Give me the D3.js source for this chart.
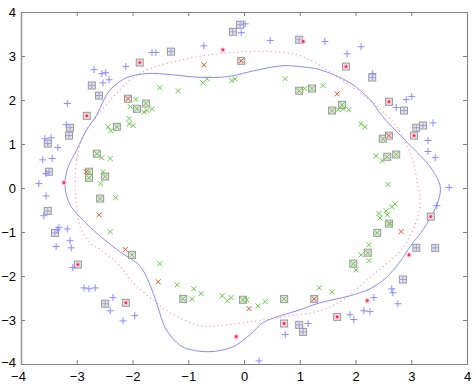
<!DOCTYPE html>
<html>
<head>
<meta charset="utf-8">
<script src="https://cdn.jsdelivr.net/npm/d3@7"></script>
<style>
  body { margin: 0; background: #fff; }
  svg { display: block; }
  .tick text { font-family: "Liberation Sans", Arial, sans-serif; font-size: 13px; fill: #000; }
</style>
</head>
<body>
<svg id="chart" width="475" height="385"></svg>
<script>
// class +1 points (outside)
var plusPts = [[-1.65,3.08],[-1.58,3.08],[-2.12,2.76],[-2.69,2.69],[-2.55,2.60],[-2.48,2.62],[-2.42,2.46],[-2.53,2.39],
  [-3.17,1.92],[-3.19,1.44],[-3.57,1.12],[-3.46,1.14],[-3.34,0.92],[-3.61,0.64],[-3.44,0.67],[-3.55,0.33],[-3.68,0.10],
  [-3.55,-0.18],[-3.59,-0.63],[-3.32,-0.90],[-3.35,-0.95],[-3.17,-0.93],[-3.12,-1.20],[-3.37,-1.33],[-3.10,-1.36],
  [-3.07,-1.81],[-2.87,-2.27],[-2.78,-2.29],[-2.67,-2.27],[-2.35,-2.49],[-2.40,-2.79],[-2.17,-3.02],[-1.96,-2.90],
  [0.02,3.73],[-0.05,3.53],[-0.72,3.23],[0.47,3.35],[1.45,3.33],[1.85,3.05],[2.10,3.21],[2.31,2.60],[2.91,2.01],
  [3.01,2.08],[2.73,1.83],[3.39,1.48],[3.30,1.08],[3.30,0.83],[3.43,0.69],[3.68,0.01],[3.46,-0.40],[2.65,-2.29],
  [2.67,-2.38],[2.76,-2.63],[2.33,-2.49],[2.15,-2.79],[2.26,-2.81],[1.90,-2.88],[1.97,-2.99],[0.74,-3.33],
  [1.15,-3.08],[0.27,-3.93]];
// class +1 support vectors
var plusSV = [[-2.73,2.33],[-2.60,2.10],[-3.12,1.37],[-3.14,1.19],[-3.52,1.01],[-3.50,0.37],[-3.52,-0.52],[-3.39,-1.02],
  [-2.49,-2.63],[-0.07,3.71],[-0.20,3.55],[-1.31,3.10],[0.99,3.37],[2.30,2.51],[2.87,1.76],[3.09,1.37],[3.21,1.42],
  [3.09,-1.36],[3.43,-1.36],[0.99,-3.11],[1.06,-3.27],[2.85,-2.08]];
// class -1 points (inside)
var crossPts = [[-1.94,2.01],[-2.04,1.85],[-1.65,1.80],[-1.74,1.76],[-1.79,1.73],[-1.51,2.28],[-2.44,1.39],[-2.39,1.30],
  [-2.06,1.58],[-2.06,1.46],[-1.99,1.42],[-1.18,2.21],[-0.74,2.39],[-0.66,2.48],[-0.22,2.44],[-0.16,2.48],[0.74,2.48],
  [1.09,2.26],[1.42,2.33],[1.69,1.78],[1.78,1.80],[1.88,1.78],[2.10,1.46],[2.17,1.39],[-2.55,0.69],[-2.40,0.67],
  [-2.53,0.37],[-2.57,0.10],[-2.30,-0.22],[-2.40,-0.99],[-1.51,-1.72],[-1.20,-2.20],[-0.90,-2.29],[-0.77,-2.40],
  [-0.93,-2.52],[-0.39,-2.45],[-0.23,-2.49],[-0.30,-2.56],[0.05,-2.54],[0.25,-2.68],[0.38,-2.58],[1.35,-2.27],
  [1.58,-2.36],[2.10,-1.52],[2.24,-1.65],[2.01,-1.86],[2.37,0.73],[2.48,0.62],[2.58,0.08],[2.71,-0.36],[2.65,-0.43],
  [2.55,-0.52],[2.57,-0.61],[2.42,-0.58],[2.44,-0.68],[2.62,-0.81],[2.24,-1.29]];
// class -1 support vectors
var crossSV = [[-1.92,1.80],[-1.76,1.92],[-2.28,1.39],[0.99,2.21],[1.22,2.26],[1.76,1.89],[1.58,1.76],[-2.64,0.78],
  [-2.78,0.37],[-2.78,0.23],[-2.49,0.26],[-2.58,-0.24],[-2.01,-1.52],[-1.09,-2.52],[-0.02,-2.54],[0.72,-2.52],
  [2.22,-1.47],[1.96,-1.72],[2.49,1.12],[2.57,0.71],[2.73,0.76],[2.60,-0.81],[2.39,-1.02]];
// misclassified class -1
var orangePts = [[-0.72,2.80],[1.67,2.14],[-2.83,0.37],[-2.60,-0.61],[-2.13,-1.40],[-1.54,-2.13],[0.09,-2.74],[2.82,-0.99]];
var orangeSV = [[-2.08,2.03],[-0.05,2.89],[2.60,1.19],[1.26,-2.52]];
// misclassified class +1
var pinkPts = [[-3.23,0.12],[-0.38,3.14],[1.06,3.33],[-0.14,-3.38],[2.96,-1.52],[2.21,-2.56]];
var pinkSV = [[-1.87,2.85],[-2.82,1.64],[1.83,2.76],[2.60,1.96],[3.05,1.19],[3.35,-0.65],[-2.98,-1.74],[-2.12,-2.61],
  [0.72,-3.08],[1.67,-2.93]];

// decision boundary (learned) and true boundary
var svmBoundary = [[-3.21,0.03],[-3.17,0.42],[-3.00,0.87],[-2.82,1.33],[-2.67,1.60],[-2.40,2.23],[-2.10,2.51],
  [-1.74,2.60],[-1.33,2.58],[-0.97,2.53],[-0.56,2.51],[-0.20,2.55],[0.16,2.66],[0.70,2.78],[1.06,2.75],[1.36,2.69],
  [1.90,2.39],[2.26,2.01],[2.49,1.62],[3.00,0.94],[3.34,0.48],[3.52,0.03],[3.46,-0.38],[3.21,-0.95],[2.98,-1.33],
  [2.80,-1.67],[2.53,-2.06],[2.26,-2.29],[1.90,-2.45],[1.36,-2.61],[0.95,-2.79],[0.59,-2.93],[0.34,-3.06],
  [0.11,-3.33],[-0.20,-3.61],[-0.61,-3.72],[-0.97,-3.67],[-1.15,-3.57],[-1.40,-3.21],[-1.56,-2.64],[-1.69,-2.19],
  [-1.87,-1.77],[-2.28,-1.40],[-2.71,-0.95],[-2.94,-0.66],[-3.12,-0.38]];
var trueBoundary = [[-3.03,0.03],[-3.00,0.64],[-2.91,1.10],[-2.76,1.44],[-2.40,1.99],[-2.04,2.46],[-1.69,2.71],
  [-1.09,2.92],[-0.48,3.05],[0.11,3.10],[0.52,3.10],[0.95,3.03],[1.22,2.89],[1.54,2.64],[2.08,2.17],[2.39,1.85],
  [2.71,1.44],[2.98,0.80],[3.10,0.19],[3.16,-0.42],[3.03,-0.95],[2.80,-1.44],[2.49,-1.79],[2.21,-2.08],[1.78,-2.54],
  [1.36,-2.79],[0.70,-2.93],[0.11,-3.04],[-0.48,-3.13],[-0.79,-3.13],[-1.33,-2.83],[-1.60,-2.58],[-1.99,-2.15],
  [-2.28,-1.70],[-2.58,-1.40],[-2.76,-1.25],[-2.94,-0.88],[-3.00,-0.42]];

var ticks = [-4,-3,-2,-1,0,1,2,3,4];

var svg = d3.select("#chart"),
    padL = 21, padR = 467, padT = 12, padB = 364;

var x = d3.scaleLinear().domain([-4,4]).range([padL,padR]);
var y = d3.scaleLinear().domain([-4,4]).range([padB,padT]);

// curves
var line = d3.line()
    .x(function(d) { return x(d[0]); })
    .y(function(d) { return y(d[1]); })
    .curve(d3.curveCatmullRomClosed);

svg.append("path")
    .attr("d", line(trueBoundary))
    .attr("fill", "none")
    .attr("stroke", "#ff9aa8")
    .attr("stroke-width", 1.2)
    .attr("stroke-dasharray", "1.2,3");

svg.append("path")
    .attr("d", line(svmBoundary))
    .attr("fill", "none")
    .attr("stroke", "#8a8aff")
    .attr("stroke-width", 1);

// support vector squares
var allSV = plusSV.concat(crossSV, orangeSV, pinkSV);
svg.selectAll(".sv")
    .data(allSV)
    .enter().append("rect")
    .attr("class", "sv")
    .attr("x", function(d) { return x(d[0]) - 3.5; })
    .attr("y", function(d) { return y(d[1]) - 3.5; })
    .attr("width", 7)
    .attr("height", 7)
    .attr("fill", "#e4e4e4")
    .attr("stroke", "#999")
    .attr("stroke-width", 1);

function drawPlus(data, color, r) {
    svg.append("g").selectAll("path")
        .data(data)
        .enter().append("path")
        .attr("d", function(d) {
            var cx = x(d[0]), cy = y(d[1]);
            return "M" + (cx - r) + "," + cy + "H" + (cx + r) + "M" + cx + "," + (cy - r) + "V" + (cy + r);
        })
        .attr("stroke", color)
        .attr("stroke-width", 1)
        .attr("fill", "none");
}

function drawCross(data, color, r) {
    svg.append("g").selectAll("path")
        .data(data)
        .enter().append("path")
        .attr("d", function(d) {
            var cx = x(d[0]), cy = y(d[1]);
            return "M" + (cx - r) + "," + (cy - r) + "L" + (cx + r) + "," + (cy + r) +
                   "M" + (cx - r) + "," + (cy + r) + "L" + (cx + r) + "," + (cy - r);
        })
        .attr("stroke", color)
        .attr("stroke-width", 1)
        .attr("fill", "none");
}

drawPlus(plusPts, "#8c8cff", 3.5);
drawPlus(plusSV, "#9a9ae8", 3);
drawCross(crossPts, "#66cc44", 2.5);
drawCross(crossSV, "#66cc44", 2.5);
drawCross(orangePts, "#e8542a", 2.5);
drawCross(orangeSV, "#e8542a", 2.5);

var pinkAll = pinkPts.concat(pinkSV);
svg.append("g").selectAll("circle")
    .data(pinkAll)
    .enter().append("circle")
    .attr("cx", function(d) { return x(d[0]); })
    .attr("cy", function(d) { return y(d[1]); })
    .attr("r", 2.6)
    .attr("fill", "#ffc4d0");
svg.append("g").selectAll("circle")
    .data(pinkAll)
    .enter().append("circle")
    .attr("cx", function(d) { return x(d[0]); })
    .attr("cy", function(d) { return y(d[1]); })
    .attr("r", 1.4)
    .attr("fill", "#ff2a5a");

// axes, ticks pointing inward on all four sides
var fmt = d3.format("d");
var axB = svg.append("g").attr("transform", "translate(0," + padB + ")")
    .call(d3.axisBottom(x).tickValues(ticks).tickFormat(fmt).tickSizeInner(-4).tickSizeOuter(0).tickPadding(8));
var axT = svg.append("g").attr("transform", "translate(0," + padT + ")")
    .call(d3.axisTop(x).tickValues(ticks).tickFormat("").tickSizeInner(-4).tickSizeOuter(0));
var axL = svg.append("g").attr("transform", "translate(" + padL + ",0)")
    .call(d3.axisLeft(y).tickValues(ticks).tickFormat(fmt).tickSizeInner(-4).tickSizeOuter(0).tickPadding(5));
var axR = svg.append("g").attr("transform", "translate(" + padR + ",0)")
    .call(d3.axisRight(y).tickValues(ticks).tickFormat("").tickSizeInner(-4).tickSizeOuter(0));

svg.selectAll(".domain").attr("stroke", "#808080");
svg.selectAll(".tick line").attr("stroke", "#808080");
axL.select(".domain").attr("stroke", "#9a9a9a").attr("stroke-width", 1.6);
axB.select(".tick text").attr("dx", "-3");
axL.select(".tick text").attr("dy", "0.2em");
</script>
</body>
</html>
